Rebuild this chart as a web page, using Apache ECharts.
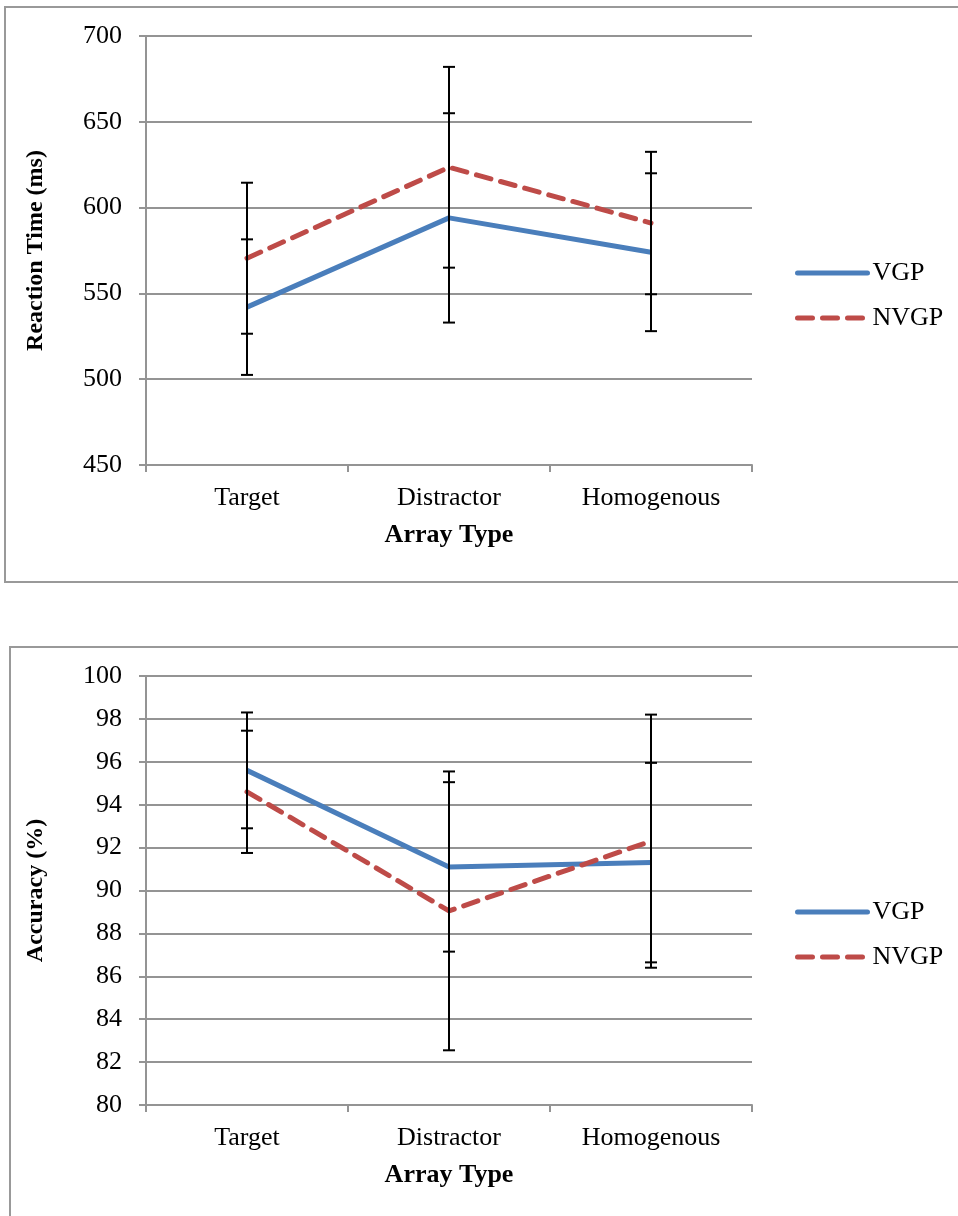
<!DOCTYPE html>
<html>
<head>
<meta charset="utf-8">
<script src="https://cdn.jsdelivr.net/npm/echarts@6/dist/echarts.min.js"></script>
<style>
  html, body { margin: 0; padding: 0; background: #fff; }
  #main { width: 958px; height: 1216px; }
</style>
</head>
<body>
<div id="main"></div>
<script>
// categories
var categories = ['Target', 'Distractor', 'Homogenous'];

// reaction time (ms)
var rtVgp = [542, 594, 574];
var rtVgpErr = [39.5, 61, 46];
var rtNvgp = [570.5, 623.5, 591];
var rtNvgpErr = [44, 58.5, 41.5];

// accuracy (%)
var accVgp = [95.6, 91.1, 91.3];
var accVgpErr = [2.7, 3.95, 4.65];
var accNvgp = [94.6, 89.05, 92.3];
var accNvgpErr = [2.85, 6.5, 5.9];

var FONT = '"Liberation Serif", "Times New Roman", serif';
var FS = 26;
var BLUE = '#4a7ebb';
var RED = '#be4b48';
var GRIDC = '#949494';

function errData(vals, errs) {
    return vals.map(function (v, i) { return [i, v - errs[i], v + errs[i]]; });
}

//误差线
function errRender(params, api) {
    var x = api.value(0);
    var lo = api.coord([x, api.value(1)]);
    var hi = api.coord([x, api.value(2)]);
    var w = 6;
    var st = { stroke: '#000', lineWidth: 2 };
    return {
        type: 'group',
        children: [
            { type: 'line', shape: { x1: hi[0], y1: hi[1], x2: lo[0], y2: lo[1] }, style: st },
            { type: 'line', shape: { x1: hi[0] - w, y1: hi[1], x2: hi[0] + w, y2: hi[1] }, style: st },
            { type: 'line', shape: { x1: lo[0] - w, y1: lo[1], x2: lo[0] + w, y2: lo[1] }, style: st }
        ]
    };
}

function xAxisOf(idx) {
    return {
        type: 'category',
        gridIndex: idx,
        data: categories,
        boundaryGap: true,
        name: 'Array Type',
        nameLocation: 'middle',
        nameGap: 57,
        nameTextStyle: { fontFamily: FONT, fontSize: FS, fontWeight: 'bold', color: '#000' },
        axisLine: { lineStyle: { color: GRIDC, width: 2 } },
        axisTick: { show: true, alignWithLabel: false, length: 7, lineStyle: { color: GRIDC, width: 2 } },
        axisLabel: { fontFamily: FONT, fontSize: FS, color: '#000', margin: 20 }
    };
}

function yAxisOf(idx, name, min, max, interval) {
    return {
        type: 'value',
        gridIndex: idx,
        min: min,
        max: max,
        interval: interval,
        name: name,
        nameLocation: 'middle',
        nameGap: 98,
        nameRotate: 90,
        nameTextStyle: { fontFamily: FONT, fontSize: 24, fontWeight: 'bold', color: '#000' },
        axisLine: { show: true, lineStyle: { color: GRIDC, width: 2 } },
        axisTick: { show: true, length: 7, lineStyle: { color: GRIDC, width: 2 } },
        axisLabel: { fontFamily: FONT, fontSize: FS, color: '#000', margin: 24 },
        splitLine: { show: true, lineStyle: { color: GRIDC, width: 2 } }
    };
}

function lineSeries(name, idx, data, color, dashed) {
    return {
        name: name,
        type: 'line',
        xAxisIndex: idx,
        yAxisIndex: idx,
        data: data,
        symbol: 'none',
        z: 2,
        color: color,
        lineStyle: dashed
            ? { color: color, width: 5, type: [15, 10], cap: 'round' }
            : { color: color, width: 5 }
    };
}

function errSeries(name, idx, vals, errs) {
    return {
        name: name,
        type: 'custom',
        xAxisIndex: idx,
        yAxisIndex: idx,
        renderItem: errRender,
        encode: { x: 0, y: [1, 2] },
        data: errData(vals, errs),
        z: 3,
        silent: true
    };
}

function legendOf(top) {
    return {
        data: ['VGP', 'NVGP'],
        orient: 'vertical',
        left: 795,
        top: top,
        padding: 0,
        itemWidth: 70,
        itemHeight: 20,
        itemGap: 19,
        itemStyle: { opacity: 0 },
        lineStyle: { width: 5, cap: 'round' },
        textStyle: { fontFamily: FONT, fontSize: FS, color: '#000', lineHeight: 26 }
    };
}

var chart = echarts.init(document.getElementById('main'));

var option = {
    backgroundColor: '#fff',
    animation: false,
    textStyle: { fontFamily: FONT },
    graphic: [
        { type: 'rect', shape: { x: 5, y: 7, width: 1000, height: 575 }, style: { fill: 'none', stroke: '#999', lineWidth: 2 } },
        { type: 'rect', shape: { x: 10, y: 647, width: 1000, height: 620 }, style: { fill: 'none', stroke: '#999', lineWidth: 2 } }
    ],
    grid: [
        { left: 146, top: 36, width: 606, height: 429 },
        { left: 146, top: 676, width: 606, height: 429 }
    ],
    legend: [legendOf(260), legendOf(899)],
    xAxis: [xAxisOf(0), xAxisOf(1)],
    yAxis: [
        yAxisOf(0, 'Reaction Time (ms)', 450, 700, 50),
        yAxisOf(1, 'Accuracy (%)', 80, 100, 2)
    ],
    series: [
        lineSeries('VGP', 0, rtVgp, BLUE, false),
        lineSeries('NVGP', 0, rtNvgp, RED, true),
        errSeries('VGP err', 0, rtVgp, rtVgpErr),
        errSeries('NVGP err', 0, rtNvgp, rtNvgpErr),
        lineSeries('VGP', 1, accVgp, BLUE, false),
        lineSeries('NVGP', 1, accNvgp, RED, true),
        errSeries('VGP err', 1, accVgp, accVgpErr),
        errSeries('NVGP err', 1, accNvgp, accNvgpErr)
    ]
};

chart.setOption(option);
</script>
</body>
</html>
